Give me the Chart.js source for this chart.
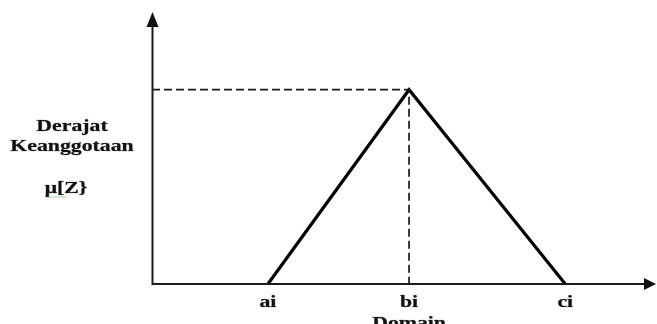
<!DOCTYPE html>
<html>
<head>
<meta charset="utf-8">
<script src="https://cdn.jsdelivr.net/npm/chart.js@4"></script>
<style>
  html, body { margin: 0; padding: 0; background: #ffffff; }
  #wrap { width: 657px; height: 324px; position: relative; }
</style>
</head>
<body>
<div id="wrap"><canvas id="chart" width="657" height="324"></canvas></div>
<script>
// Triangular membership function: domain points and membership degrees
const domainPoints = [2.3, 5.1, 8.2];          // ai, bi, ci
const membership   = [0, 1, 0];                // μ at ai, bi, ci
const tickLabels   = ['ai', 'bi', 'ci'];
const yTitleLines  = ['Derajat', 'Keanggotaan'];
const yTitleSymbol = 'μ[Z}';
const xTitle       = 'Domain';

const trianglePts = domainPoints.map((x, i) => ({ x: x, y: membership[i] }));
// guide lines from the y axis to the peak and down to the domain axis
const peakX = domainPoints[1], peakY = membership[1];
const guidePts = [{ x: 0, y: peakY }, { x: peakX, y: peakY }, { x: peakX, y: 0 }];

const FONT = 'bold 17px "Liberation Serif", "Times New Roman", serif';
const STRETCH = 1.28;

function stretchedText(ctx, text, cx, baseline) {
  ctx.save();
  ctx.translate(cx, baseline);
  ctx.scale(STRETCH, 1);
  ctx.strokeText(text, 0, 0);
  ctx.fillText(text, 0, 0);
  ctx.restore();
}

const axesPlugin = {
  id: 'arrowAxes',
  afterDatasetsDraw(chart) {
    const { ctx, scales: { x, y } } = chart;
    const ox = x.getPixelForValue(0);
    const oy = y.getPixelForValue(0);
    const xEnd = x.getPixelForValue(x.max);
    const yEnd = y.getPixelForValue(y.max);
    ctx.save();
    ctx.strokeStyle = '#1c1c1c';
    ctx.fillStyle = '#111';
    ctx.lineWidth = 2;
    ctx.beginPath();
    ctx.moveTo(ox + 0.5, oy);
    ctx.lineTo(ox + 0.5, yEnd + 12);
    ctx.moveTo(ox - 0.5, oy);
    ctx.lineTo(xEnd - 9, oy);
    ctx.stroke();
    // arrow heads
    ctx.beginPath();
    ctx.moveTo(ox + 0.5, yEnd);
    ctx.lineTo(ox - 5.5, yEnd + 15);
    ctx.lineTo(ox + 6.5, yEnd + 15);
    ctx.closePath();
    ctx.fill();
    ctx.beginPath();
    ctx.moveTo(xEnd, oy);
    ctx.lineTo(xEnd - 12, oy - 6);
    ctx.lineTo(xEnd - 12, oy + 6);
    ctx.closePath();
    ctx.fill();

    // labels
    ctx.font = FONT;
    ctx.textAlign = 'center';
    ctx.textBaseline = 'alphabetic';
    ctx.fillStyle = '#111';
    ctx.strokeStyle = 'rgba(17,17,17,0.45)';
    ctx.lineWidth = 0.6;
    domainPoints.forEach((v, i) => {
      stretchedText(ctx, tickLabels[i], x.getPixelForValue(v), oy + 23);
    });
    stretchedText(ctx, xTitle, x.getPixelForValue(peakX), oy + 44);

    stretchedText(ctx, yTitleLines[0], 72, 131);
    stretchedText(ctx, yTitleLines[1], 72, 151);
    stretchedText(ctx, yTitleSymbol, 66, 193);
    // faint spell-check underline beneath the symbol
    ctx.strokeStyle = 'rgba(90,180,90,0.6)';
    ctx.lineWidth = 1;
    ctx.beginPath();
    ctx.moveTo(47, 197);
    ctx.lineTo(66, 197);
    ctx.stroke();
    ctx.restore();
  }
};

new Chart(document.getElementById('chart'), {
  type: 'scatter',
  data: {
    datasets: [
      {
        data: guidePts,
        showLine: true,
        borderColor: '#1a1a1a',
        borderWidth: 1.7,
        borderDash: [8, 4],
        pointRadius: 0,
        clip: false
      },
      {
        data: trianglePts,
        showLine: true,
        borderColor: '#000000',
        borderWidth: 3.2,
        borderJoinStyle: 'miter',
        pointRadius: 0,
        clip: false
      }
    ]
  },
  options: {
    responsive: false,
    animation: false,
    events: [],
    layout: { padding: { left: 152, right: 1, top: 12, bottom: 40 } },
    plugins: { legend: { display: false }, tooltip: { enabled: false } },
    scales: {
      x: { type: 'linear', min: 0, max: 10, display: false },
      y: { type: 'linear', min: 0, max: 1.4, display: false }
    }
  },
  plugins: [axesPlugin]
});
</script>
</body>
</html>
